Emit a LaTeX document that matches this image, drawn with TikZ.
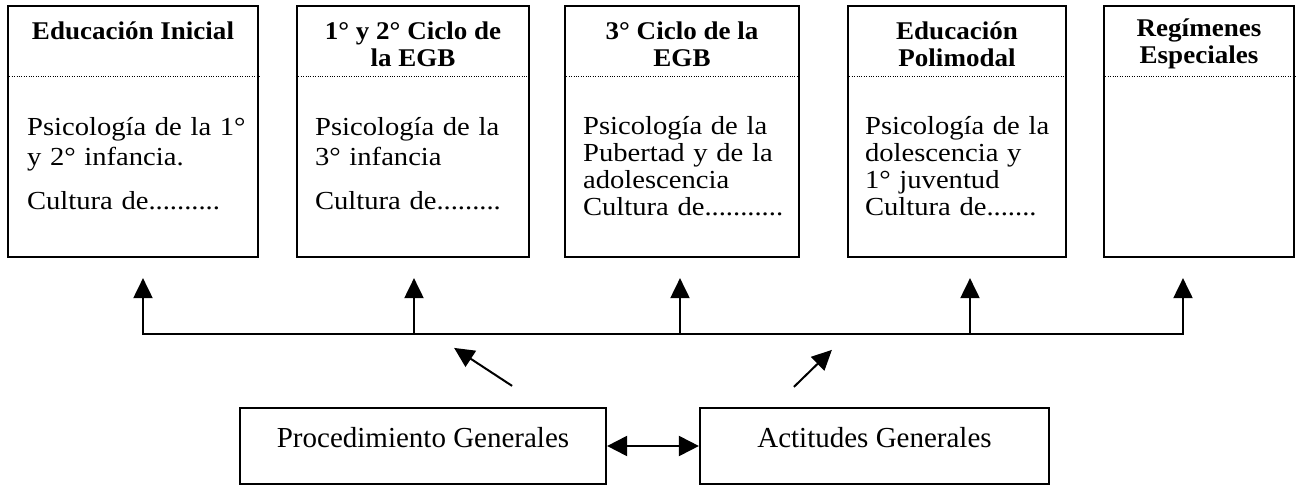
\documentclass[tikz,border=0pt]{standalone}
\usepackage{fontspec}
\setmainfont{Liberation Serif}
\newfontfamily\headfont{Liberation Serif}[FakeStretch=1.06]
\newfontfamily\bodyfont{Liberation Serif}[FakeStretch=1.1]
\usetikzlibrary{arrows.meta, positioning}
\tikzset{
  levelbox/.style={draw, line width=2.2pt, minimum height=251pt, inner sep=0pt},
  headtext/.style={font=\headfont\bfseries\fontsize{25.5}{27}\selectfont, align=center, inner sep=0pt},
  bodytext/.style={font=\bodyfont\fontsize{26}{27}\selectfont, align=left, inner sep=0pt, anchor=north west},
  sepline/.style={line width=1.2pt, dash pattern=on 1pt off 1.4pt},
  basebox/.style={draw, line width=2.2pt, minimum height=76pt, inner sep=0pt,
    text height=20pt, text depth=18pt, font=\fontsize{29}{33}\selectfont},
  uparrow/.style={-{Triangle[length=20pt, width=19pt]}, line width=2pt},
  dblarrow/.style={{Triangle[length=20pt, width=20pt]}-{Triangle[length=20pt, width=20pt]}, line width=2pt},
}
\begin{document}
\begin{tikzpicture}[x=1pt, y=-1pt]
  \useasboundingbox (0,0) rectangle (1301,486);

  \node[levelbox, minimum width=250pt] (inicial) at (133,131.5) {};
  \node[levelbox, minimum width=232pt] (egbA) at (413,131.5) {};
  \node[levelbox, minimum width=234pt] (egbB) at (682,131.5) {};
  \node[levelbox, minimum width=218pt] (polimodal) at (957,131.5) {};
  \node[levelbox, minimum width=190pt] (especiales) at (1199,131.5) {};

  % title and dotted rule of every level
  \foreach \b/\dy/\ttl in {inicial/26/{Educación Inicial}, egbA/39/{1° y 2° Ciclo de\\la EGB},
      egbB/39/{3° Ciclo de la\\EGB}, polimodal/39/{Educación\\Polimodal}, especiales/39/{Regímenes\\Especiales}} {
    \node[headtext] (\b-title) at ([yshift=-\dy pt]\b.north) {\ttl};
    \draw[sepline] ([yshift=-72pt]\b.north west) -- ([yshift=-72pt]\b.north east);
  }

  \node[bodytext, text width=219pt] (inicial-body) at ([xshift=20pt, yshift=-112pt]inicial.north west)
    {\makebox[\linewidth][s]{Psicología de la 1°}\\[3pt] y 2° infancia.\\[17pt] Cultura de..........};
  \node[bodytext, text width=205pt] (egbA-body) at ([xshift=19pt, yshift=-112pt]egbA.north west)
    {Psicología de la\\[3pt] 3° infancia\\[17pt] Cultura de.........};
  \node[bodytext, text width=208pt] (egbB-body) at ([xshift=19pt, yshift=-111pt]egbB.north west)
    {\makebox[\linewidth][s]{Psicología de la}\\ \makebox[\linewidth][s]{Pubertad y de la}\\ adolescencia\\ Cultura de...........};
  \node[bodytext, text width=190pt] (polimodal-body) at ([xshift=18pt, yshift=-111pt]polimodal.north west)
    {\makebox[\linewidth][s]{Psicología de la}\\ \makebox[\linewidth][s]{dolescencia y}\\ 1° juventud\\ Cultura de.......};

  % bus feeding every level
  \foreach \b/\x in {inicial/143, egbA/414, egbB/680, polimodal/970, especiales/1183} {
    \coordinate (tap-\b) at (\x,334);
    \draw[uparrow, shorten >=20pt] (tap-\b) -- (tap-\b |- \b.south);
  }
  \draw[line width=2pt, line cap=rect] (tap-inicial) -- (tap-especiales);

  \node[basebox, minimum width=366pt] (proc) at (423,446) {Procedimiento Generales};
  \node[basebox, minimum width=349pt] (act) at (874.5,446) {Actitudes Generales};
  \draw[dblarrow] (proc) -- (act);

  \coordinate (proc-foot) at ([xshift=-95pt, yshift=21pt]proc.north east);
  \coordinate (proc-head) at ([xshift=-153pt, yshift=59pt]proc.north east);
  \coordinate (act-foot) at ([xshift=95pt, yshift=20pt]act.north west);
  \coordinate (act-head) at ([xshift=133pt, yshift=57pt]act.north west);
  \draw[uparrow] (proc-foot) -- (proc-head);
  \draw[uparrow] (act-foot) -- (act-head);
\end{tikzpicture}
\end{document}
